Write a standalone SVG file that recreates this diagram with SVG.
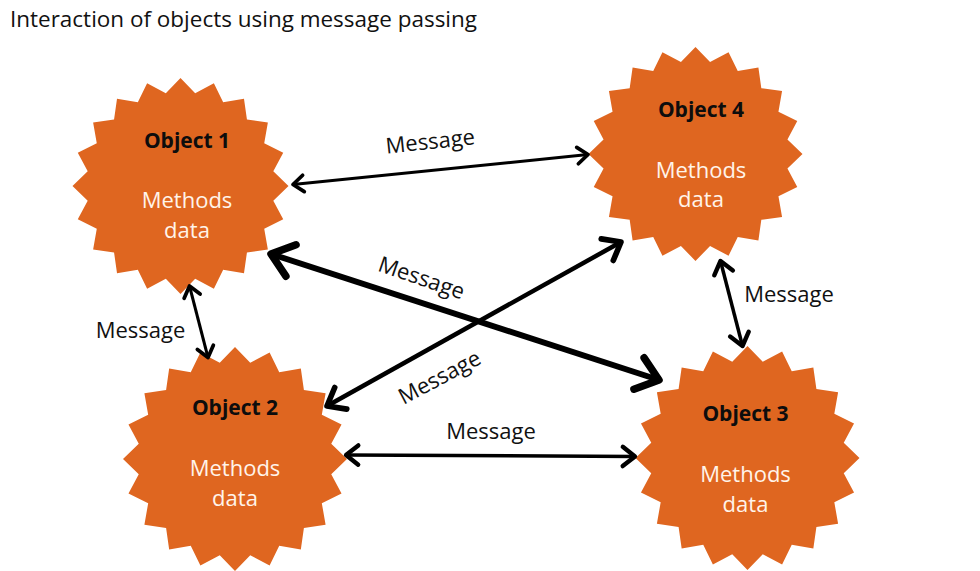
<svg xmlns="http://www.w3.org/2000/svg" xmlns:xlink="http://www.w3.org/1999/xlink" width="980" height="571" viewBox="0 0 980 571">
<style>
.star{fill:#DF6620}
.ttl{font-family:"Open Sans","Liberation Sans",sans-serif;font-weight:bold;font-size:21px;fill:#0d0d0d;text-anchor:middle}
.body{font-family:"Open Sans","Liberation Sans",sans-serif;font-size:22px;fill:#FFF4EA;text-anchor:middle}
.lbl{font-family:"Open Sans","Liberation Sans",sans-serif;font-size:22px;fill:#111;text-anchor:middle}
.arr{stroke:#000;fill:none;stroke-linecap:butt;marker-start:url(#hd);marker-end:url(#hd)}
</style>
<defs>
<marker id="hd" markerUnits="strokeWidth" orient="auto-start-reverse" refX="0" refY="0" markerWidth="10" markerHeight="10" viewBox="-4 -4 8 8" overflow="visible">
<path d="M-2.8,-2.2 L0,0 L-2.8,2.2" fill="none" stroke="#000" stroke-width="1" stroke-linecap="round" stroke-linejoin="round"/>
</marker>
<path id="star" d="M100,0 L85.93,13.61 L95.11,30.90 L77.52,39.50 L80.90,58.78 L61.52,61.52 L58.78,80.90 L39.50,77.52 L30.90,95.11 L13.61,85.93 L0,100 L-13.61,85.93 L-30.90,95.11 L-39.50,77.52 L-58.78,80.90 L-61.52,61.52 L-80.90,58.78 L-77.52,39.50 L-95.11,30.90 L-85.93,13.61 L-100,0 L-85.93,-13.61 L-95.11,-30.90 L-77.52,-39.50 L-80.90,-58.78 L-61.52,-61.52 L-58.78,-80.90 L-39.50,-77.52 L-30.90,-95.11 L-13.61,-85.93 L0,-100 L13.61,-85.93 L30.90,-95.11 L39.50,-77.52 L58.78,-80.90 L61.52,-61.52 L80.90,-58.78 L77.52,-39.50 L95.11,-30.90 L85.93,-13.61 Z"/>
</defs>
<rect width="980" height="571" fill="#fff"/>
<text x="10" y="27" font-family="'Open Sans','Liberation Sans',sans-serif" font-size="21" fill="#111" textLength="467" lengthAdjust="spacingAndGlyphs">Interaction of objects using message passing</text>

<g id="object1">
<use xlink:href="#star" class="star" transform="translate(180.5,186) scale(1.08)"/>
<text class="ttl" x="187" y="148">Object 1</text>
<text class="body" x="187" y="208">Methods</text>
<text class="body" x="187" y="238">data</text>
</g>
<g id="object4">
<use xlink:href="#star" class="star" transform="translate(695.5,154) scale(1.07)"/>
<text class="ttl" x="701" y="117">Object 4</text>
<text class="body" x="701" y="178">Methods</text>
<text class="body" x="701" y="207">data</text>
</g>
<g id="object2">
<use xlink:href="#star" class="star" transform="translate(235,459) scale(1.12)"/>
<text class="ttl" x="235" y="415">Object 2</text>
<text class="body" x="235" y="476">Methods</text>
<text class="body" x="235" y="506">data</text>
</g>
<g id="object3">
<use xlink:href="#star" class="star" transform="translate(747.5,458) scale(1.12)"/>
<text class="ttl" x="745.5" y="421">Object 3</text>
<text class="body" x="745.5" y="482">Methods</text>
<text class="body" x="745.5" y="512">data</text>
</g>

<g id="connectors">
<line class="arr" x1="293" y1="184.5" x2="588" y2="154.5" stroke-width="3"/>
<line class="arr" x1="271" y1="254" x2="659" y2="380" stroke-width="6"/>
<line class="arr" x1="327" y1="406" x2="621" y2="242" stroke-width="4.5"/>
<line class="arr" x1="189.5" y1="286" x2="208" y2="357.5" stroke-width="3"/>
<line class="arr" x1="720.5" y1="261" x2="742.5" y2="346" stroke-width="3.5"/>
<line class="arr" x1="346" y1="455" x2="635" y2="456.5" stroke-width="3.5"/>
<text class="lbl" transform="translate(431,149) rotate(-6)">Message</text>
<text class="lbl" transform="translate(419,285) rotate(19)">Message</text>
<text class="lbl" transform="translate(443,384) rotate(-28)">Message</text>
<text class="lbl" x="140.5" y="338">Message</text>
<text class="lbl" x="789" y="302">Message</text>
<text class="lbl" x="491" y="439">Message</text>
</g>
</svg>
